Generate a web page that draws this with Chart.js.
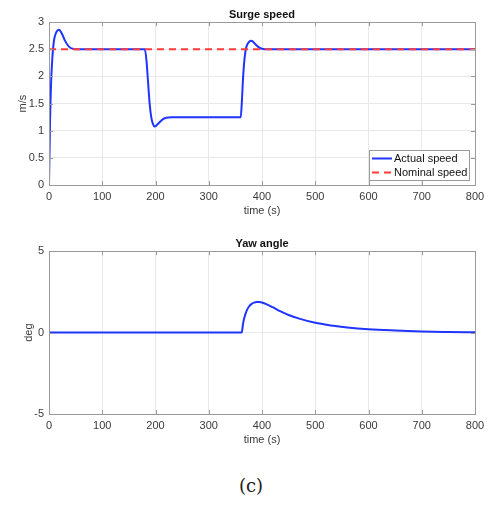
<!DOCTYPE html>
<html>
<head>
<meta charset="utf-8">
<script src="https://cdn.jsdelivr.net/npm/chart.js@4"></script>
<style>
  body { margin: 0; background: #fff; }
  #wrap { position: relative; width: 494px; height: 509px; }
  canvas { position: absolute; left: 0; }
  #cap { position: absolute; left: 0; width: 502px; top: 475px; text-align: center;
         font-family: "DejaVu Serif", "Liberation Serif", serif; font-size: 18px; color: #222; }
</style>
</head>
<body>
<div id="wrap">
  <canvas id="surge" width="494" height="220" style="top:0px"></canvas>
  <canvas id="yaw" width="494" height="220" style="top:229px"></canvas>
  <div id="cap">(c)</div>
</div>
<script>
/*
  Two stacked MATLAB style plots: surge speed and yaw angle over time
*/

/**************** Data *************************/

// actual surge speed (m/s)
const surge_time  = [0, 2, 4, 6, 8, 10, 13, 16, 19, 22, 26, 30, 35, 40, 45, 50, 60,
                     180, 183, 186, 189, 192, 195, 198, 201, 205, 210, 215, 220, 230, 240,
                     360, 362, 364, 366, 368, 370, 373, 376, 379, 382, 385, 390, 395, 400, 410, 420, 800];
const surge_speed = [0, 1.2, 1.9, 2.3, 2.55, 2.7, 2.8, 2.85, 2.86, 2.83, 2.75, 2.66, 2.58, 2.53, 2.51, 2.5, 2.5,
                     2.5, 2.3, 1.9, 1.5, 1.25, 1.13, 1.08, 1.09, 1.13, 1.18, 1.22, 1.24, 1.25, 1.25,
                     1.25, 1.5, 1.9, 2.2, 2.4, 2.52, 2.6, 2.64, 2.66, 2.65, 2.62, 2.57, 2.53, 2.51, 2.5, 2.5, 2.5];

// nominal speed reference
const nominal_time  = [0, 800];
const nominal_speed = [2.5, 2.5];

// yaw angle (deg)
const yaw_time  = [0, 362, 364, 366, 369, 372, 376, 380, 385, 390, 395, 400, 410, 420, 435,
                   450, 470, 500, 530, 560, 600, 650, 700, 750, 800];
const yaw_angle = [0, 0, 0.45, 0.8, 1.15, 1.4, 1.62, 1.75, 1.84, 1.88, 1.88, 1.85, 1.72, 1.56, 1.3,
                   1.08, 0.86, 0.6, 0.44, 0.32, 0.21, 0.13, 0.07, 0.04, 0.02];

const legend_labels = ["Actual speed", "Nominal speed"];
const x_range = [0, 800];

const blue = '#1f35ff';
const red  = '#ff3b3b';
const text_color = '#3a3a3a';
const font_family = '"Liberation Sans", Arial, sans-serif';


// zip two arrays into {x, y} points
function toPoints(xs, ys) {
    let pts = [];
    for (let i = 0; i < xs.length; i++) {
        pts.push({x: xs[i], y: ys[i]});
    }
    return pts;
}


/**************** Plugins *************************/

// box round the axes plus small inward ticks, like matlab
const boxPlugin = {
    id: 'box',
    afterDraw(chart) {
        const ctx = chart.ctx;
        const a = chart.chartArea;
        const xs = chart.scales.x;
        const ys = chart.scales.y;
        ctx.save();
        ctx.strokeStyle = '#9a9a9a';
        ctx.lineWidth = 1;
        ctx.beginPath();
        xs.ticks.forEach(t => {
            const px = Math.round(xs.getPixelForValue(t.value)) + 0.5;
            ctx.moveTo(px, a.bottom); ctx.lineTo(px, a.bottom - 4);
            ctx.moveTo(px, a.top);    ctx.lineTo(px, a.top + 4);
        });
        ys.ticks.forEach(t => {
            const py = Math.round(ys.getPixelForValue(t.value)) + 0.5;
            ctx.moveTo(a.left, py);  ctx.lineTo(a.left + 4, py);
            ctx.moveTo(a.right, py); ctx.lineTo(a.right - 4, py);
        });
        ctx.stroke();
        ctx.strokeRect(Math.round(a.left) + 0.5, Math.round(a.top) + 0.5,
                       Math.round(a.right - a.left), Math.round(a.bottom - a.top));
        ctx.restore();
    }
};

// legend drawn inside the plot, lower right corner
const insideLegend = {
    id: 'insideLegend',
    afterDraw(chart, args, opts) {
        if (!opts.show) return;
        const ctx = chart.ctx;
        const a = chart.chartArea;
        const w = 100, h = 30;
        const x0 = a.right - w - 6, y0 = a.bottom - h - 5;
        ctx.save();
        ctx.fillStyle = '#fff';
        ctx.fillRect(x0, y0, w, h);
        ctx.strokeStyle = '#9a9a9a';
        ctx.lineWidth = 1;
        ctx.strokeRect(x0 + 0.5, y0 + 0.5, w, h);
        ctx.font = '11px ' + font_family;
        ctx.textBaseline = 'middle';
        ctx.fillStyle = '#111';
        chart.data.datasets.forEach((ds, i) => {
            const y = y0 + 8.5 + i * 14;
            ctx.strokeStyle = ds.borderColor;
            ctx.lineWidth = 2;
            ctx.setLineDash(ds.borderDash || []);
            ctx.beginPath();
            ctx.moveTo(x0 + 3, y); ctx.lineTo(x0 + 23, y);
            ctx.stroke();
            ctx.setLineDash([]);
            ctx.fillText(ds.label, x0 + 25, y + 0.5);
        });
        ctx.restore();
    }
};


/**************** Build chart *************************/

function makeChart(canvasID, title, yTitle, yMin, yMax, yStep, yTitlePad, datasets, showLegend) {
    return new Chart(document.getElementById(canvasID), {
        type: 'line',
        data: { datasets: datasets },
        options: {
            responsive: false,
            animation: false,
            devicePixelRatio: 1,
            layout: { padding: { left: 0, right: 19, top: 0, bottom: 0 } },
            elements: { point: { radius: 0 } },
            plugins: {
                legend: { display: false },
                tooltip: { enabled: false },
                title: {
                    display: true,
                    text: title,
                    fullSize: false,
                    color: '#111',
                    font: { family: font_family, size: 11, weight: 'bold' },
                    padding: { top: 8, bottom: 1 }
                },
                insideLegend: { show: showLegend }
            },
            scales: {
                x: {
                    type: 'linear',
                    min: x_range[0],
                    max: x_range[1],
                    afterFit: (s) => { s.height = 35; },
                    grid: { color: '#e8e8e8', drawTicks: false },
                    border: { display: false },
                    ticks: {
                        stepSize: 100, maxRotation: 0, padding: 5,
                        color: text_color, font: { family: font_family, size: 11 }
                    },
                    title: {
                        display: true, text: 'time (s)', color: text_color,
                        font: { family: font_family, size: 11 },
                        padding: { top: 0, bottom: 2 }
                    }
                },
                y: {
                    min: yMin,
                    max: yMax,
                    afterFit: (s) => { s.width = 49; },
                    grid: { color: '#e8e8e8', drawTicks: false },
                    border: { display: false },
                    ticks: {
                        stepSize: yStep, padding: 5,
                        callback: (v) => String(v),
                        color: text_color, font: { family: font_family, size: 11 }
                    },
                    title: {
                        display: true, text: yTitle, color: text_color,
                        font: { family: font_family, size: 11 },
                        padding: { top: yTitlePad, bottom: 0 }
                    }
                }
            }
        },
        plugins: [boxPlugin, insideLegend]
    });
}


makeChart('surge', 'Surge speed', 'm/s', 0, 3, 0.5, 16, [
    {
        label: legend_labels[0],
        data: toPoints(surge_time, surge_speed),
        borderColor: blue,
        borderWidth: 2,
        order: 1,
        cubicInterpolationMode: 'monotone'
    },
    {
        label: legend_labels[1],
        data: toPoints(nominal_time, nominal_speed),
        borderColor: red,
        borderWidth: 2,
        order: 0,
        borderDash: [7, 5]
    }
], true);

makeChart('yaw', 'Yaw angle', 'deg', -5, 5, 5, 22, [
    {
        label: 'Yaw angle',
        data: toPoints(yaw_time, yaw_angle),
        borderColor: blue,
        borderWidth: 2,
        cubicInterpolationMode: 'monotone'
    }
], false);
</script>
</body>
</html>
